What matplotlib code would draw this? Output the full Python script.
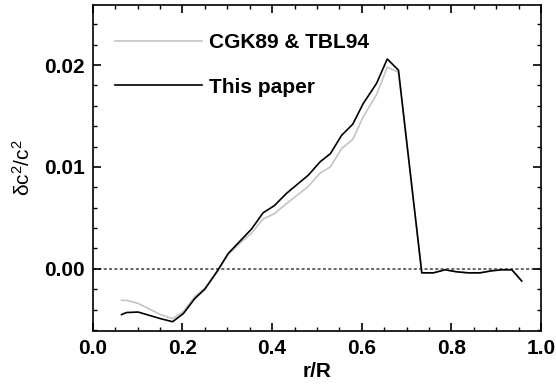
import matplotlib
matplotlib.use('Agg')
import matplotlib.pyplot as plt
from matplotlib.ticker import MultipleLocator

plt.rcParams.update({
    'font.family': ['Liberation Sans', 'DejaVu Sans'],
    'mathtext.default': 'regular',
    'xtick.direction': 'in',
    'ytick.direction': 'in',
    'xtick.top': True,
    'ytick.right': True,
})

# r/R sample points (shared by both curves)
r = [0.064, 0.075, 0.101, 0.151, 0.178, 0.202, 0.228, 0.250, 0.278, 0.302,
     0.328, 0.354, 0.380, 0.405, 0.432, 0.481, 0.507, 0.530, 0.555, 0.580,
     0.603, 0.633, 0.657, 0.682, 0.734, 0.760, 0.786, 0.812, 0.838, 0.864,
     0.890, 0.912, 0.935, 0.957]

# CGK89 & TBL94
cgk = [-0.0031, -0.0031, -0.0034, -0.0045, -0.0049, -0.0042, -0.0027, -0.0019,
       -0.0003, 0.0014, 0.0025, 0.0035, 0.0049, 0.0054, 0.0064, 0.0081,
       0.0094, 0.0100, 0.0118, 0.0127, 0.0149, 0.0171, 0.0198, 0.0193,
       -0.0004, -0.0004, -0.0001, -0.0003, -0.0004, -0.0004, -0.0002,
       -0.0001, -0.0001, -0.0012]

# This paper
paper = [-0.0045, -0.0043, -0.00425, -0.0049, -0.0052, -0.0044, -0.0029, -0.0020,
         -0.0002, 0.0015, 0.0027, 0.0039, 0.0055, 0.0062, 0.0074, 0.0092,
         0.0105, 0.0113, 0.0131, 0.0142, 0.0162, 0.0182, 0.0206, 0.0195,
         -0.0004, -0.0004, -0.0001, -0.0003, -0.0004, -0.0004, -0.0002,
         -0.0001, -0.0001, -0.0012]

fig = plt.figure(figsize=(5.56, 3.87), dpi=100)
ax = fig.add_axes([0.167, 0.145, 0.806, 0.842])

ax.axhline(0, color='#404040', lw=1.1, ls=(0, (2, 1.5)), zorder=1)
ax.plot(r, cgk, color='#c4c4c4', lw=1.2, label='CGK89 & TBL94', zorder=2)
ax.plot(r, paper, color='black', lw=1.2, label='This paper', zorder=3)

ax.set_xlim(0, 1.0)
ax.set_ylim(-0.0061, 0.0259)
ax.xaxis.set_major_locator(MultipleLocator(0.2))
ax.xaxis.set_minor_locator(MultipleLocator(0.05))
ax.yaxis.set_major_locator(MultipleLocator(0.01))
ax.yaxis.set_minor_locator(MultipleLocator(0.002))
ax.xaxis.set_major_formatter(lambda v, p: f'{v:.1f}')
ax.yaxis.set_major_formatter(lambda v, p: f'{v:.2f}')

ax.tick_params(which='major', length=6, width=1.2, labelsize=15, pad=6)
ax.tick_params(which='minor', length=3, width=1.0)
for lbl in ax.get_xticklabels() + ax.get_yticklabels():
    lbl.set_fontweight('bold')
for s in ax.spines.values():
    s.set_linewidth(1.2)

ax.set_xlabel('r/R', fontsize=15, fontweight='bold', labelpad=3)
ax.set_ylabel(r'$\delta c^2/c^2$', fontsize=15, labelpad=7)

leg = ax.legend(loc='upper left', frameon=False, handlelength=4.2,
                prop={'weight': 'bold', 'size': 15}, borderaxespad=0,
                borderpad=0, labelspacing=1.23, handletextpad=0.33,
                bbox_to_anchor=(0.049, 0.914))

fig.savefig('out.png', dpi=100)
